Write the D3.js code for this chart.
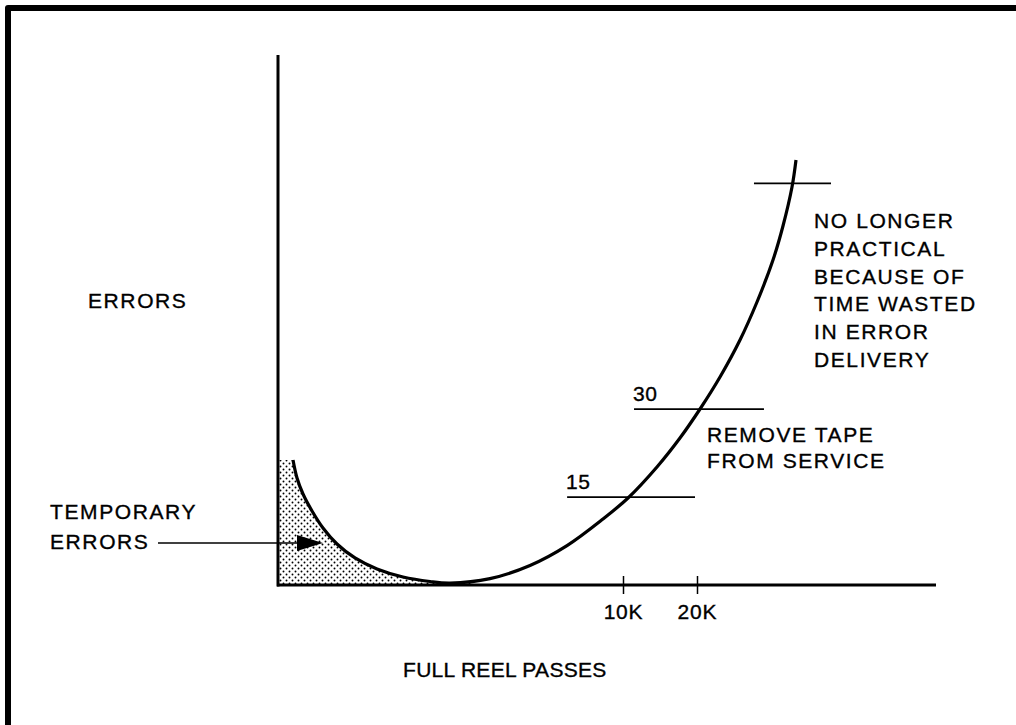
<!DOCTYPE html>
<html>
<head>
<meta charset="utf-8">
<script src="https://cdn.jsdelivr.net/npm/d3@7"></script>
<style>
  html, body { margin: 0; padding: 0; background: #fff; }
  text { font-family: "Liberation Sans", Arial, Helvetica, sans-serif; font-size: 21px; fill: #000;
         stroke: #000; stroke-width: 0.35px; letter-spacing: 1.6px; }
</style>
</head>
<body>
<div id="chart"></div>
<script>
// passes in thousands (schematic axis), errors count
var passes = [0.435, 0.551, 0.725, 0.986, 1.304, 1.710, 2.232, 2.870, 3.623, 4.406, 4.986,
              6.145, 7.304, 8.377, 9.420, 10.68, 14.59, 17.70, 20.41, 23.11, 25.81, 28.11,
              30.27, 31.62, 32.84, 33.38];
var errors = [21.32, 18.25, 15.52, 12.62, 9.72, 6.99, 4.61, 2.73, 1.36, 0.60, 0.34,
              1.09, 3.33, 6.72, 11.26, 14.84, 20.13, 25.07, 30.02, 35.48, 41.79, 48.27,
              55.43, 61.23, 67.88, 72.49];

var tickValues = [10, 20];
var tickLabels = ["10K", "20K"];

// error limit markers
var levelErrors = [15, 30, 68.5];
var levelFrom = [8.38, 11.49, 27.70];
var levelTo = [19.73, 29.05, 38.11];
var levelLabels = ["15", "30", ""];

var temporaryEnd = 5.6; // shaded region of temporary errors ends here

var width = 1016, height = 725;

var svg = d3.select("#chart")
  .append("svg")
  .attr("width", width)
  .attr("height", height);

// frame
svg.append("path")
  .attr("d", "M8," + height + " L8,8 L" + width + ",8")
  .attr("fill", "none")
  .attr("stroke", "#000")
  .attr("stroke-width", 6)
  .attr("stroke-linejoin", "round");

// early passes are drawn stretched, so the scale is piecewise
var x = d3.scaleLinear()
  .domain([0, 10, 52.3])
  .range([278, 623, 936]);

var y = d3.scaleLinear()
  .domain([0, 90.4])
  .range([585, 55]);

var pts = passes.map((p, i) => ({ p: p, e: errors[i] }));
var smooth = d3.curveCatmullRom.alpha(0.5);

var defs = svg.append("defs");

// dot screen for the shaded area
var pat = defs.append("pattern")
  .attr("id", "dots")
  .attr("patternUnits", "userSpaceOnUse")
  .attr("width", 6)
  .attr("height", 6);
pat.append("circle").attr("cx", 1.5).attr("cy", 1.5).attr("r", 0.95).attr("fill", "#000");
pat.append("circle").attr("cx", 4.5).attr("cy", 4.5).attr("r", 0.95).attr("fill", "#000");

defs.append("clipPath")
  .attr("id", "shadeClip")
  .append("rect")
  .attr("x", x(0))
  .attr("y", 0)
  .attr("width", x(temporaryEnd) - x(0))
  .attr("height", height);

var shaded = pts.filter(d => d.p <= temporaryEnd + 1.5);

svg.append("path")
  .datum(shaded)
  .attr("d", d3.area()
    .x(d => x(d.p))
    .y0(y(0))
    .y1(d => y(d.e))
    .curve(smooth))
  .attr("fill", "url(#dots)")
  .attr("clip-path", "url(#shadeClip)");

svg.append("rect")
  .attr("x", x(0))
  .attr("y", y(errors[0]))
  .attr("width", x(passes[0]) - x(0))
  .attr("height", y(0) - y(errors[0]))
  .attr("fill", "url(#dots)");

// axes
var xAxis = svg.append("g")
  .attr("transform", "translate(0," + y(0) + ")")
  .call(d3.axisBottom(x)
    .tickValues(tickValues)
    .tickFormat((d, i) => tickLabels[i])
    .tickSizeOuter(0));

xAxis.attr("font-family", null).attr("font-size", null);
xAxis.select(".domain")
  .attr("d", "M" + (x(0) - 1) + ",0H" + x(52.3))
  .attr("stroke-width", 3);
xAxis.selectAll(".tick line")
  .attr("y1", -9)
  .attr("y2", 9)
  .attr("stroke-width", 1.5);
xAxis.selectAll(".tick text")
  .attr("dy", null)
  .attr("y", 34)
  .style("letter-spacing", "0.8px");

svg.append("line")
  .attr("x1", x(0)).attr("x2", x(0))
  .attr("y1", y(90.4)).attr("y2", y(0) + 1.5)
  .attr("stroke", "#000")
  .attr("stroke-width", 3);

// error level markers
svg.selectAll(".level")
  .data(levelErrors)
  .enter()
  .append("line")
  .attr("class", "level")
  .attr("x1", (d, i) => x(levelFrom[i]))
  .attr("x2", (d, i) => x(levelTo[i]))
  .attr("y1", d => y(d))
  .attr("y2", d => y(d))
  .attr("stroke", "#000")
  .attr("stroke-width", 1.8);

svg.selectAll(".levelLabel")
  .data(levelErrors)
  .enter()
  .append("text")
  .attr("class", "levelLabel")
  .attr("x", (d, i) => x(levelFrom[i]) - 1)
  .attr("y", d => y(d) - 8)
  .style("letter-spacing", "0.5px")
  .text((d, i) => levelLabels[i]);

// the error curve
svg.append("path")
  .datum(pts)
  .attr("d", d3.line()
    .x(d => x(d.p))
    .y(d => y(d.e))
    .curve(smooth))
  .attr("fill", "none")
  .attr("stroke", "#000")
  .attr("stroke-width", 3.2);

// arrow to the temporary errors
svg.append("line")
  .attr("x1", 158).attr("x2", 300)
  .attr("y1", 543).attr("y2", 543)
  .attr("stroke", "#000")
  .attr("stroke-width", 1.5);
svg.append("path")
  .attr("d", "M323,543 L297,535 L297,551 Z")
  .attr("fill", "#000");

function block(lines, tx, ty, step) {
  var t = svg.append("text").attr("x", tx).attr("y", ty);
  t.selectAll("tspan")
    .data(lines)
    .enter()
    .append("tspan")
    .attr("x", tx)
    .attr("y", (d, i) => ty + i * step)
    .text(d => d);
  return t;
}

block(["ERRORS"], 88, 308, 0);
block(["TEMPORARY", "ERRORS"], 50, 519, 30);
block(["NO LONGER", "PRACTICAL", "BECAUSE OF", "TIME WASTED", "IN ERROR", "DELIVERY"], 814, 228, 27.8);
block(["REMOVE TAPE", "FROM SERVICE"], 707, 442, 26);
block(["FULL REEL PASSES"], 403, 677, 0).style("letter-spacing", "0.3px");
</script>
</body>
</html>
